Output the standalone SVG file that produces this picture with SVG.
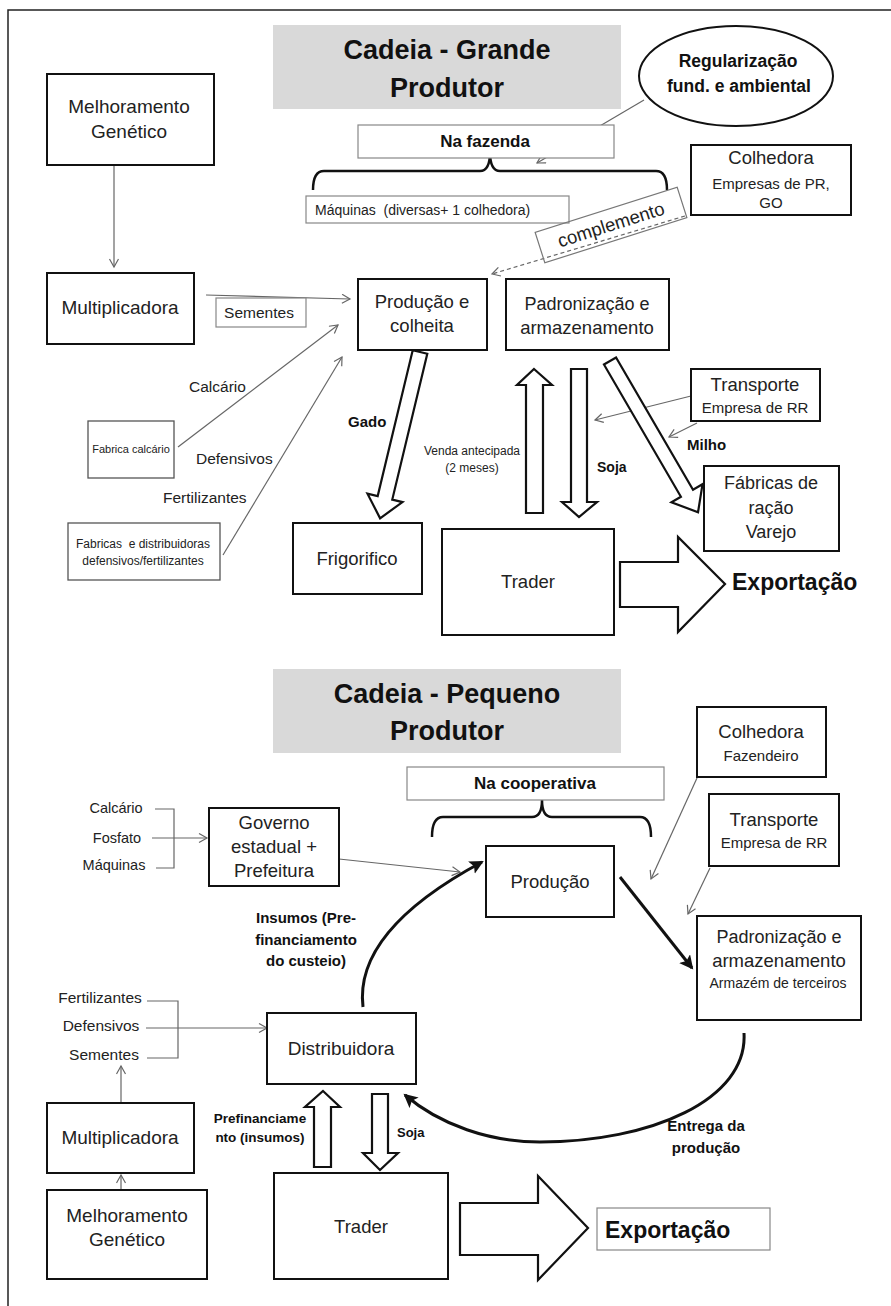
<svg xmlns="http://www.w3.org/2000/svg" width="891" height="1306" viewBox="0 0 891 1306">
<style>
text{font-family:"Liberation Sans",Arial,sans-serif;fill:#222;}
.b{font-weight:bold;fill:#111;}
.m{text-anchor:middle;}
.box{fill:#fff;stroke:#111;stroke-width:2;}
.gbox{fill:#fff;stroke:#888;stroke-width:1.2;}
.title{fill:#d9d9d9;}
.thin{fill:none;stroke:#666;stroke-width:1.2;}
.thick{fill:none;stroke:#111;stroke-width:3;}
.brace{fill:none;stroke:#111;stroke-width:2.5;}
.blk{fill:#fff;stroke:#111;stroke-width:2.2;stroke-linejoin:miter;}
</style>
<defs>
<marker id="oa" markerUnits="userSpaceOnUse" markerWidth="12" markerHeight="12" refX="9" refY="5" orient="auto">
<path d="M1,0.5 L9,5 L1,9.5" fill="none" stroke="#666" stroke-width="1.2"/>
</marker>
<marker id="fa" markerUnits="userSpaceOnUse" markerWidth="16" markerHeight="16" refX="12" refY="7" orient="auto">
<path d="M0,0 L14,7 L0,14 L3,7 z" fill="#111"/>
</marker>
</defs>
<rect width="891" height="1306" fill="#fff"/>
<path d="M8,1306 V10 H891" fill="none" stroke="#222" stroke-width="1.5"/>

<g id="connectors">
<line class="thin" x1="114" y1="165" x2="114" y2="267" marker-end="url(#oa)"/>
<line class="thin" x1="206" y1="295" x2="350" y2="299" marker-end="url(#oa)"/>
<line class="thin" x1="178" y1="447" x2="338" y2="325" marker-end="url(#oa)"/>
<line class="thin" x1="223" y1="555" x2="342" y2="357" marker-end="url(#oa)"/>
<line class="thin" x1="644" y1="100" x2="537" y2="163" marker-end="url(#oa)"/>
<line class="thin" x1="685" y1="216" x2="492" y2="274" stroke-dasharray="4,3" marker-end="url(#oa)"/>
<line class="thin" x1="691" y1="396" x2="595" y2="420" marker-end="url(#oa)"/>
<line class="thin" x1="697" y1="423" x2="669" y2="437" marker-end="url(#oa)"/>
<path class="brace" d="M313,190 Q313,171 324,171 H480 Q490,171 490,152 Q490,171 500,171 H656 Q667,171 667,190"/>
<polygon class="blk" transform="translate(420,352) rotate(13.5)" points="-7.5,0 7.5,0 7.5,150 18,150 0,171 -18,150 -7.5,150"/>
<polygon class="blk" transform="translate(610,361) rotate(-30.2)" points="-7,0 7,0 7,153 18,153 0,175 -18,153 -7,153"/>
<polygon class="blk" points="534,369 552,385 543,385 543,513 526,513 526,385 517,385"/>
<polygon class="blk" points="571,369 587,369 587,502 597,502 579,517 562,502 571,502"/>
<polygon class="blk" points="620,562 678,562 678,537 725,584 678,632 678,607 620,607"/>
<path class="brace" d="M432,837 Q432,817 443,817 H532 Q542,817 542,800 Q542,817 552,817 H640 Q651,817 651,837"/>
<path class="thin" d="M155,809 H174 V868 H156"/>
<line class="thin" x1="152" y1="838" x2="207" y2="838" marker-end="url(#oa)"/>
<line class="thin" x1="339" y1="859" x2="460" y2="872" marker-end="url(#oa)"/>
<line class="thin" x1="697" y1="778" x2="651" y2="879" marker-end="url(#oa)"/>
<line class="thin" x1="710" y1="868" x2="688" y2="914" marker-end="url(#oa)"/>
<line class="thick" x1="620" y1="877" x2="692" y2="968" marker-end="url(#fa)"/>
<path class="thick" d="M363,1007 C355,940 430,890 482,862" marker-end="url(#fa)"/>
<path class="thick" d="M744,1033 C748,1100 650,1142 540,1142 C490,1142 440,1125 405,1095" marker-end="url(#fa)"/>
<path class="thin" d="M147,1001 H178 V1058 H147"/>
<line class="thin" x1="146" y1="1028" x2="267" y2="1028" marker-end="url(#oa)"/>
<line class="thin" x1="121" y1="1102" x2="121" y2="1066" marker-end="url(#oa)"/>
<line class="thin" x1="121" y1="1190" x2="121" y2="1175" marker-end="url(#oa)"/>
<polygon class="blk" points="323,1091 340,1107 331,1107 331,1167 314,1167 314,1107 305,1107"/>
<polygon class="blk" points="372,1094 388,1094 388,1153 398,1153 380,1170 363,1153 372,1153"/>
<polygon class="blk" points="460,1203 538,1203 538,1176 588,1228 538,1280 538,1255 460,1255"/>
</g>

<g id="title-grande">
<rect class="title" x="273" y="25" width="348" height="84"/>
<text class="b m" x="447" y="59" font-size="27">Cadeia - Grande</text>
<text class="b m" x="447" y="97" font-size="27">Produtor</text>
</g>
<g id="regularizacao">
<ellipse cx="736" cy="76" rx="97" ry="50" fill="#fff" stroke="#111" stroke-width="2"/>
<text class="b m" x="738" y="67" font-size="17.5">Regularização</text>
<text class="b m" x="739" y="92" font-size="17.5">fund. e ambiental</text>
</g>
<g id="melhoramento1">
<rect class="box" x="47" y="74" width="167" height="91"/>
<text class="m" x="129" y="113" font-size="19">Melhoramento</text>
<text class="m" x="129" y="138" font-size="19">Genético</text>
</g>
<g id="na-fazenda">
<rect class="gbox" x="358" y="125" width="256" height="33"/>
<text class="b m" x="485" y="147" font-size="17">Na fazenda</text>
</g>
<g id="maquinas">
<rect class="gbox" x="306" y="196" width="263" height="27"/>
<text x="315" y="215" font-size="14" xml:space="preserve">Máquinas  (diversas+ 1 colhedora)</text>
</g>
<g id="colhedora1">
<rect class="box" x="691" y="145" width="160" height="70"/>
<text class="m" x="771" y="164" font-size="18.5">Colhedora</text>
<text class="m" x="771" y="189" font-size="15">Empresas de PR,</text>
<text class="m" x="771" y="208" font-size="15">GO</text>
</g>
<g id="complemento" transform="translate(611,225) rotate(-17.6)">
<rect x="-74.5" y="-16" width="149" height="32" fill="none" stroke="#777" stroke-width="1.2"/>
<text class="m" x="0" y="6" font-size="18.5">complemento</text>
</g>
<g id="multiplicadora1">
<rect class="box" x="47" y="273" width="147" height="71"/>
<text class="m" x="120" y="314" font-size="19">Multiplicadora</text>
</g>
<g id="sementes1">
<rect class="gbox" x="216" y="298" width="90" height="29"/>
<text class="m" x="259" y="318" font-size="15.5">Sementes</text>
</g>
<g id="producao1">
<rect class="box" x="358" y="279" width="129" height="71"/>
<text class="m" x="422" y="308" font-size="18.5">Produção e</text>
<text class="m" x="422" y="332" font-size="18.5">colheita</text>
</g>
<g id="padronizacao1">
<rect class="box" x="506" y="279" width="163" height="71"/>
<text class="m" x="587" y="310" font-size="18">Padronização e</text>
<text class="m" x="587" y="334" font-size="18.5">armazenamento</text>
</g>
<g id="labels-top">
<text x="189" y="392" font-size="15.5">Calcário</text>
<text x="196" y="464" font-size="15.5">Defensivos</text>
<text x="163" y="503" font-size="15.5">Fertilizantes</text>
<text class="b" x="348" y="427" font-size="15">Gado</text>
<text class="m" x="472" y="455" font-size="12" fill="#444">Venda antecipada</text>
<text class="m" x="472" y="472" font-size="12" fill="#444">(2 meses)</text>
<text class="b" x="597" y="472" font-size="14">Soja</text>
<text class="b" x="687" y="450" font-size="15">Milho</text>
</g>
<g id="fabrica-calcario">
<rect x="88" y="421" width="86" height="57" fill="#fff" stroke="#555" stroke-width="1.3"/>
<text class="m" x="131" y="453" font-size="11">Fabrica calcário</text>
</g>
<g id="fabricas-distribuidoras">
<rect x="68" y="523" width="152" height="57" fill="#fff" stroke="#555" stroke-width="1.3"/>
<text class="m" x="143" y="548" font-size="12" xml:space="preserve">Fabricas  e distribuidoras</text>
<text class="m" x="143" y="565" font-size="12">defensivos/fertilizantes</text>
</g>
<g id="transporte1">
<rect class="box" x="691" y="369" width="129" height="52"/>
<text class="m" x="755" y="391" font-size="18.5">Transporte</text>
<text class="m" x="755" y="413" font-size="15">Empresa de RR</text>
</g>
<g id="fabricas-racao">
<rect class="box" x="704" y="466" width="135" height="85"/>
<text class="m" x="771" y="489" font-size="18">Fábricas de</text>
<text class="m" x="771" y="514" font-size="18">ração</text>
<text class="m" x="771" y="538" font-size="18">Varejo</text>
</g>
<g id="frigorifico">
<rect class="box" x="293" y="523" width="129" height="71"/>
<text class="m" x="357" y="565" font-size="18.5">Frigorifico</text>
</g>
<g id="trader1">
<rect class="box" x="442" y="529" width="172" height="106"/>
<text class="m" x="528" y="588" font-size="18.5">Trader</text>
</g>
<g id="exportacao1">
<text class="b" x="732" y="590" font-size="23">Exportação</text>
</g>

<g id="title-pequeno">
<rect class="title" x="273" y="669" width="348" height="84"/>
<text class="b m" x="447" y="703" font-size="27">Cadeia - Pequeno</text>
<text class="b m" x="447" y="740" font-size="27">Produtor</text>
</g>
<g id="na-cooperativa">
<rect class="gbox" x="407" y="767" width="257" height="33"/>
<text class="b m" x="535" y="789" font-size="17">Na cooperativa</text>
</g>
<g id="colhedora2">
<rect class="box" x="697" y="707" width="129" height="70"/>
<text class="m" x="761" y="738" font-size="18.5">Colhedora</text>
<text class="m" x="761" y="761" font-size="15">Fazendeiro</text>
</g>
<g id="transporte2">
<rect class="box" x="709" y="794" width="130" height="72"/>
<text class="m" x="774" y="826" font-size="18.5">Transporte</text>
<text class="m" x="774" y="848" font-size="15">Empresa de RR</text>
</g>
<g id="insumos-labels">
<text class="m" x="116" y="813" font-size="14.5">Calcário</text>
<text class="m" x="117" y="843" font-size="14.5">Fosfato</text>
<text class="m" x="114" y="870" font-size="14.5">Máquinas</text>
</g>
<g id="governo">
<rect class="box" x="209" y="808" width="130" height="78"/>
<text class="m" x="274" y="829" font-size="18.5">Governo</text>
<text class="m" x="274" y="853" font-size="18.5">estadual +</text>
<text class="m" x="274" y="877" font-size="18.5">Prefeitura</text>
</g>
<g id="producao2">
<rect class="box" x="486" y="846" width="128" height="71"/>
<text class="m" x="550" y="888" font-size="18.5">Produção</text>
</g>
<g id="padronizacao2">
<rect class="box" x="697" y="916" width="164" height="104"/>
<text class="m" x="779" y="943" font-size="18">Padronização e</text>
<text class="m" x="779" y="967" font-size="18.5">armazenamento</text>
<text class="m" x="778" y="988" font-size="14">Armazém de terceiros</text>
</g>
<g id="labels-bottom">
<text class="b m" x="306" y="923" font-size="15">Insumos (Pre-</text>
<text class="b m" x="306" y="945" font-size="15">financiamento</text>
<text class="b m" x="306" y="966" font-size="15">do custeio)</text>
<text class="b m" x="706" y="1131" font-size="15">Entrega da</text>
<text class="b m" x="706" y="1153" font-size="15">produção</text>
<text class="b m" x="260" y="1123" font-size="13.5">Prefinanciame</text>
<text class="b m" x="260" y="1142" font-size="13.5">nto (insumos)</text>
<text class="b" x="397" y="1137" font-size="13">Soja</text>
</g>
<g id="insumos2-labels">
<text class="m" x="100" y="1003" font-size="15.5">Fertilizantes</text>
<text class="m" x="101" y="1031" font-size="15.5">Defensivos</text>
<text class="m" x="104" y="1060" font-size="15.5">Sementes</text>
</g>
<g id="distribuidora">
<rect class="box" x="267" y="1013" width="149" height="71"/>
<text class="m" x="341" y="1055" font-size="19">Distribuidora</text>
</g>
<g id="multiplicadora2">
<rect class="box" x="47" y="1103" width="147" height="70"/>
<text class="m" x="120" y="1144" font-size="19">Multiplicadora</text>
</g>
<g id="melhoramento2">
<rect class="box" x="47" y="1190" width="160" height="89"/>
<text class="m" x="127" y="1222" font-size="19">Melhoramento</text>
<text class="m" x="127" y="1246" font-size="19">Genético</text>
</g>
<g id="trader2">
<rect class="box" x="274" y="1173" width="174" height="106"/>
<text class="m" x="361" y="1233" font-size="18.5">Trader</text>
</g>
<g id="exportacao2">
<rect class="gbox" x="597" y="1208" width="173" height="42"/>
<text class="b" x="605" y="1238" font-size="23">Exportação</text>
</g>
</svg>
